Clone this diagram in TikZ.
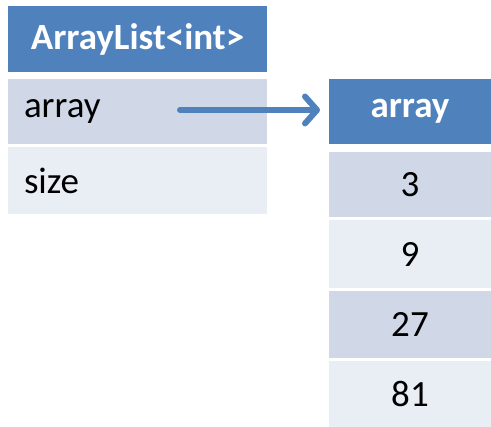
\documentclass[tikz,border=0pt]{standalone}
\usepackage{fontspec}
\setmainfont{Carlito}
\usetikzlibrary{arrows.meta}
\definecolor{hdrblue}{HTML}{4F81BD}
\definecolor{rowdark}{HTML}{D0D8E8}
\definecolor{rowlight}{HTML}{E9EDF4}
\tikzset{
  cell/.style={anchor=north west, inner sep=0pt, outer sep=0pt,
    font=\fontsize{37}{42}\selectfont, text=black},
  hdrcell/.style={cell, fill=hdrblue, text=white, font=\fontsize{37}{42}\selectfont\bfseries},
  darkcell/.style={cell, fill=rowdark},
  lightcell/.style={cell, fill=rowlight},
  leftcol/.style={minimum width=259pt, text width=227pt, align=left, inner xsep=16pt},
  rightcol/.style={minimum width=162pt, align=center},
  pointer/.style={draw=hdrblue, line width=6pt, line cap=round,
    -{Straight Barb[length=12pt, width=27pt, line cap=round, line join=round]}}
}
\begin{document}
\begin{tikzpicture}[x=1pt, y=-1pt]
\useasboundingbox (0,0) rectangle (491,427);
% ArrayList object
\node[hdrcell, leftcol, minimum height=66pt, align=center] (lhead) at (8,6) {ArrayList<int>};
\node[darkcell, leftcol, minimum height=65pt] (lfield1) at (8,79) {array};
\node[lightcell, leftcol, minimum height=67pt] (lfield2) at (8,147) {size};
% backing array
\node[hdrcell, rightcol, minimum height=65pt] (rhead) at (329,79) {array};
\node[darkcell, rightcol, minimum height=65pt] (r0) at (329,152) {3};
\node[lightcell, rightcol, minimum height=68pt] (r1) at (329,220) {9};
\node[darkcell, rightcol, minimum height=67pt] (r2) at (329,291) {27};
\node[lightcell, rightcol, minimum height=66pt] (r3) at (329,361) {81};
% reference from the field to the array
\coordinate (ptr) at (180,110);
\draw[pointer, shorten >=9pt] (ptr) -- (ptr -| rhead.west);
\end{tikzpicture}
\end{document}
